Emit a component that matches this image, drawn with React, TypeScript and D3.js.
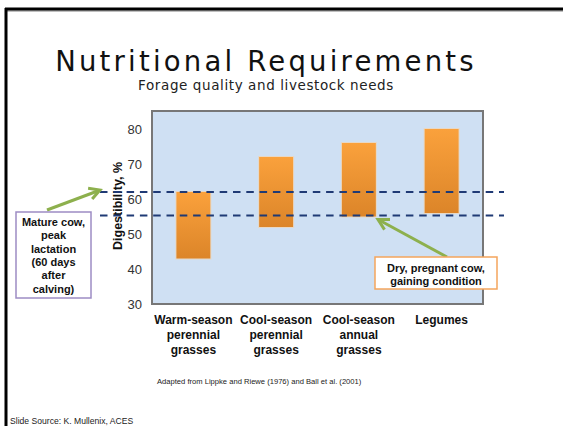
import React from "react";
import * as d3 from "d3";

const categories = [
  ["Warm-season", "perennial", "grasses"],
  ["Cool-season", "perennial", "grasses"],
  ["Cool-season", "annual", "grasses"],
  ["Legumes"],
];
const lowValues = [43, 52, 55, 56];
const highValues = [62, 72, 76, 80];
const yTicks = [30, 40, 50, 60, 70, 80];
const requirementLines = [62, 55.3];
const leftNote = ["Mature cow,", "peak", "lactation", "(60 days", "after", "calving)"];
const rightNote = ["Dry, pregnant cow,", "gaining condition"];

export default function App() {
  const W = 563, H = 426;
  const plot = { x0: 152, x1: 483, y0: 111, y1: 304 };
  const keys = categories.map((c) => c.join(" "));
  const x = d3.scaleBand<string>().domain(keys).range([plot.x0, plot.x1]).paddingInner(0.59).paddingOuter(0.295);
  const y = d3.scaleLinear().domain([30, 85]).range([plot.y1, plot.y0 + 0.5]);
  const sans = "'Liberation Sans', Arial, sans-serif";

  const arrowHead = (tx: number, ty: number, fx: number, fy: number) => {
    const ang = Math.atan2(ty - fy, tx - fx);
    const L = 12, a = 0.5;
    const p1 = [tx - L * Math.cos(ang - a), ty - L * Math.sin(ang - a)];
    const p2 = [tx - L * Math.cos(ang + a), ty - L * Math.sin(ang + a)];
    return `M${p1[0]},${p1[1]}L${tx},${ty}L${p2[0]},${p2[1]}`;
  };

  return (
    <svg width={W} height={H} style={{ position: "absolute", left: 0, top: 0, background: "#fff" }}>
      <defs>
        <linearGradient id="barGrad" x1="0" y1="0" x2="0" y2="1">
          <stop offset="0" stopColor="#faa13c" />
          <stop offset="1" stopColor="#dc8529" />
        </linearGradient>
      </defs>
      {/* slide frame */}
      <line x1={5} y1={11} x2={W} y2={11} stroke="#aaa" strokeWidth={1.5} />
      <line x1={5} y1={9} x2={W} y2={9} stroke="#000" strokeWidth={3} />
      <line x1={6} y1={8} x2={6} y2={H} stroke="#000" strokeWidth={3} />

      <text x={266} y={70.5} textAnchor="middle" fontFamily="'DejaVu Sans', sans-serif" fontSize={27.5} letterSpacing={3.2} fill="#111">
        Nutritional Requirements
      </text>
      <text x={266} y={89.5} textAnchor="middle" fontFamily="'DejaVu Sans', sans-serif" fontSize={13.5} letterSpacing={0.6} fill="#222">
        Forage quality and livestock needs
      </text>

      {/* plot area */}
      <rect x={plot.x0} y={plot.y0} width={plot.x1 - plot.x0} height={plot.y1 - plot.y0} fill="#cfe0f3" stroke="#777" strokeWidth={2} />

      {yTicks.map((t) => (
        <text key={t} x={142} y={y(t)} textAnchor="end" dominantBaseline="central" fontFamily={sans} fontSize={13} fill="#333">
          {t}
        </text>
      ))}
      <text transform={`translate(122,${206}) rotate(-90)`} textAnchor="middle" fontFamily={sans} fontSize={12.5} fontWeight="bold" fill="#111">
        Digestibility, %
      </text>

      {keys.map((k, i) => (
        <g key={k}>
          <rect x={(x(k) as number) - 1} y={y(highValues[i]) - 1} width={x.bandwidth() + 2} height={y(lowValues[i]) - y(highValues[i]) + 2} fill="#f7d2a8" opacity={0.6} />
          <rect x={x(k)} y={y(highValues[i])} width={x.bandwidth()} height={y(lowValues[i]) - y(highValues[i])} fill="url(#barGrad)" />
        </g>
      ))}

      {requirementLines.map((v) => (
        <line key={v} x1={100} x2={504} y1={y(v)} y2={y(v)} stroke="#1f3a75" strokeWidth={2} strokeDasharray="7.5,5.8" />
      ))}

      {keys.map((k, i) => (
        <text key={k} textAnchor="middle" fontFamily={sans} fontSize={12} fontWeight="bold" fill="#111">
          {categories[i].map((line, j) => (
            <tspan key={j} x={(x(k) as number) + x.bandwidth() / 2} y={324 + j * 15}>
              {line}
            </tspan>
          ))}
        </text>
      ))}

      {/* left annotation */}
      <line x1={47} y1={210} x2={99} y2={190.5} stroke="#8db04d" strokeWidth={3} />
      <path d={arrowHead(100, 190, 47, 210)} fill="none" stroke="#8db04d" strokeWidth={3} />
      <rect x={16} y={212} width={75} height={86} fill="#fff" stroke="#9d8cc4" strokeWidth={1.5} />
      <text textAnchor="middle" fontFamily={sans} fontSize={11} fontWeight="bold" fill="#111">
        {leftNote.map((l, j) => (
          <tspan key={j} x={53.5} y={226 + j * 13.3}>
            {l}
          </tspan>
        ))}
      </text>

      {/* right annotation */}
      <line x1={447} y1={257} x2={379} y2={220} stroke="#8db04d" strokeWidth={3} />
      <path d={arrowHead(378, 219.5, 447, 257)} fill="none" stroke="#8db04d" strokeWidth={3} />
      <rect x={375} y={257} width={122} height={32} fill="#fff" stroke="#f5a55c" strokeWidth={1.5} />
      <text textAnchor="middle" fontFamily={sans} fontSize={11} fontWeight="bold" fill="#111">
        {rightNote.map((l, j) => (
          <tspan key={j} x={436} y={272 + j * 12.5}>
            {l}
          </tspan>
        ))}
      </text>

      <text x={157} y={384} fontFamily={sans} fontSize={7.6} fill="#222">
        Adapted from Lippke and Riewe (1976) and Ball et al. (2001)
      </text>
      <text x={10} y={424} fontFamily={sans} fontSize={8.6} fill="#222">
        Slide Source: K. Mullenix, ACES
      </text>
    </svg>
  );
}
